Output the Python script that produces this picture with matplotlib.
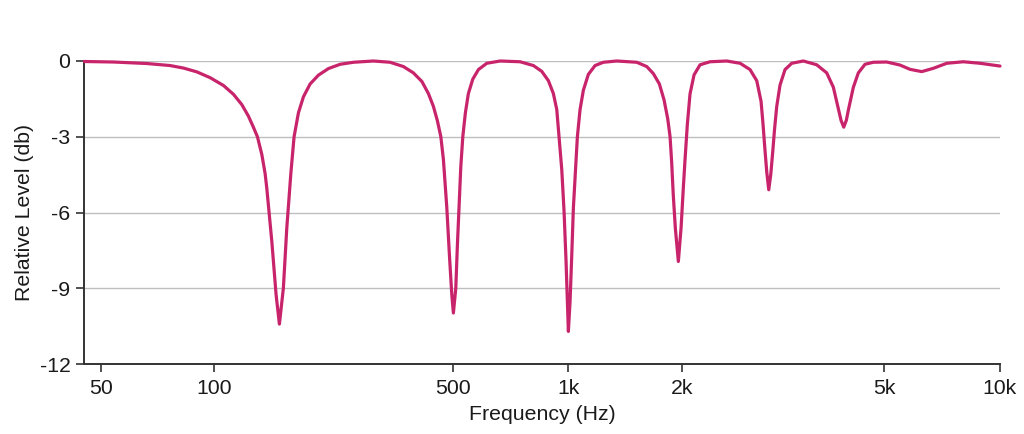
import numpy as np
import matplotlib
matplotlib.use("Agg")
import matplotlib.pyplot as plt
from matplotlib.ticker import NullLocator, FixedLocator, FixedFormatter

plt.rcParams['font.family'] = ['Liberation Sans', 'DejaVu Sans']

# ---- data ----
freq_hz = [45.2, 54.0, 66.2, 76.3, 82.8, 89.8, 97.4, 106.3, 113.7, 120.3,
           125.7, 130.0, 133.6, 137.6, 140.7, 142.3, 147.2, 151.5, 154.9, 159.1,
           162.8, 167.3, 171.0, 176.1, 182.1, 190.5, 201.5, 215.5, 233.2, 255.1,
           291.8, 326.5, 357.1, 381.9, 404.4, 422.6, 437.1, 449.0, 459.5, 467.5,
           478.3, 486.8, 494.7, 500.0, 507.3, 512.2, 518.4, 522.8, 529.2, 537.5,
           547.3, 562.0, 581.4, 611.6, 662.7, 747.5, 809.8, 851.8, 886.6, 913.6,
           932.4, 945.4, 955.2, 961.0, 974.4, 986.2, 993.9, 1000.0, 1010.4, 1021.0,
           1031.0, 1048.2, 1056.6, 1074.1, 1096.0, 1129.9, 1177.4, 1238.5, 1344.4, 1519.3,
           1614.9, 1681.4, 1744.4, 1794.9, 1836.3, 1862.1, 1880.3, 1899.0, 1923.1, 1958.8,
           1991.5, 2014.6, 2030.0, 2051.4, 2076.4, 2114.4, 2172.6, 2273.0, 2451.4, 2604.2,
           2723.8, 2807.8, 2863.2, 2888.6, 2911.0, 2937.8, 2964.4, 2991.4, 3018.2, 3043.2,
           3073.4, 3119.8, 3191.0, 3289.2, 3467.0, 3682.8, 3853.0, 3970.6, 4061.0, 4111.0,
           4161.4, 4210.6, 4248.6, 4346.6, 4445.8, 4581.8, 4758.0, 5072.5, 5492.5, 5832.5,
           6256.0, 6706.5, 7268.5, 8027.0, 8871.0, 10000.0]
level_db = [-0.02, -0.04, -0.10, -0.18, -0.28, -0.43, -0.66, -0.97, -1.32, -1.73,
            -2.18, -2.62, -3.00, -3.70, -4.46, -5.04, -7.15, -9.26, -10.42, -9.00,
            -6.62, -4.46, -3.00, -2.05, -1.42, -0.91, -0.56, -0.30, -0.13, -0.05,
            0.00, -0.05, -0.22, -0.47, -0.81, -1.29, -1.80, -2.37, -3.00, -3.90,
            -5.80, -7.68, -9.26, -9.98, -9.00, -7.30, -5.50, -4.20, -3.00, -2.05,
            -1.29, -0.72, -0.34, -0.09, 0.00, -0.03, -0.18, -0.41, -0.78, -1.29,
            -1.92, -3.00, -3.82, -4.30, -5.96, -7.94, -9.52, -10.71, -9.52, -7.68,
            -5.83, -3.90, -3.00, -1.92, -1.16, -0.53, -0.18, -0.05, 0.00, -0.05,
            -0.22, -0.50, -0.91, -1.54, -2.30, -3.00, -4.00, -5.30, -6.62, -7.94,
            -6.62, -5.00, -3.90, -2.50, -1.30, -0.55, -0.15, -0.03, 0.00, -0.09,
            -0.34, -0.78, -1.60, -2.50, -3.40, -4.40, -5.10, -4.50, -3.60, -2.70,
            -1.80, -0.95, -0.34, -0.09, 0.00, -0.15, -0.47, -1.04, -1.90, -2.35,
            -2.62, -2.35, -1.95, -1.04, -0.47, -0.13, -0.05, -0.04, -0.16, -0.33,
            -0.42, -0.29, -0.09, -0.03, -0.09, -0.20]

x_tick_values = [50, 100, 500, 1000, 2000, 5000, 10000]
x_tick_labels = ['50', '100', '500', '1k', '2k', '5k', '10k']
y_tick_values = [0, -3, -6, -9, -12]
y_tick_labels = ['0', '-3', '-6', '-9', '-12']

# ---- layout: the reference axis spaces its ticks unevenly ----
tick_layout_pos = np.array([100.7, 214.3, 453.3, 568.3, 681.7, 884.3, 1000.0])
log_anchor = np.log10(np.array(x_tick_values, dtype=float))


def forward(f):
    f = np.asarray(f, dtype=float)
    lf = np.log10(np.clip(f, 1e-6, None))
    u = np.interp(lf, log_anchor, tick_layout_pos)
    s0 = (tick_layout_pos[1] - tick_layout_pos[0]) / (log_anchor[1] - log_anchor[0])
    s1 = (tick_layout_pos[-1] - tick_layout_pos[-2]) / (log_anchor[-1] - log_anchor[-2])
    u = np.where(lf < log_anchor[0], tick_layout_pos[0] + (lf - log_anchor[0]) * s0, u)
    u = np.where(lf > log_anchor[-1], tick_layout_pos[-1] + (lf - log_anchor[-1]) * s1, u)
    return u


def inverse(u):
    u = np.asarray(u, dtype=float)
    lf = np.interp(u, tick_layout_pos, log_anchor)
    s0 = (log_anchor[1] - log_anchor[0]) / (tick_layout_pos[1] - tick_layout_pos[0])
    s1 = (log_anchor[-1] - log_anchor[-2]) / (tick_layout_pos[-1] - tick_layout_pos[-2])
    lf = np.where(u < tick_layout_pos[0], log_anchor[0] + (u - tick_layout_pos[0]) * s0, lf)
    lf = np.where(u > tick_layout_pos[-1], log_anchor[-1] + (u - tick_layout_pos[-1]) * s1, lf)
    return 10 ** lf


fig = plt.figure(figsize=(10.24, 4.34), dpi=100)
ax = fig.add_axes([84.3 / 1024, 70 / 434, (1000 - 84.3) / 1024, 303 / 434])

ax.set_xscale('function', functions=(forward, inverse))
ax.set_xlim(45.2, 10000)
ax.set_ylim(-12, 0)

line_color = '#C8246B'
ax.plot(freq_hz, level_db, color=line_color, lw=2.3, solid_joinstyle='round',
        solid_capstyle='round', clip_on=False, zorder=3)

for v in y_tick_values[:-1]:
    ax.axhline(v, color='#BEBEBE', lw=1.0, zorder=1)

ax.xaxis.set_major_locator(FixedLocator(x_tick_values))
ax.xaxis.set_major_formatter(FixedFormatter(x_tick_labels))
ax.xaxis.set_minor_locator(NullLocator())
ax.set_yticks(y_tick_values)
ax.set_yticklabels(y_tick_labels)

spine_color = '#333333'
for side in ['top', 'right']:
    ax.spines[side].set_visible(False)
for side in ['left', 'bottom']:
    ax.spines[side].set_color(spine_color)
    ax.spines[side].set_linewidth(1.4)

ax.tick_params(axis='both', which='major', length=6, width=1.2, color=spine_color,
               labelsize=15.3, labelcolor='#1a1a1a', direction='out')
ax.tick_params(axis='x', pad=5)
ax.tick_params(axis='y', pad=4)

ax.set_xlabel('Frequency (Hz)', fontsize=15.3, color='#1a1a1a', labelpad=5)
ax.set_ylabel('Relative Level (db)', fontsize=15.3, color='#1a1a1a', labelpad=4)

fig.savefig('out.png', dpi=100, facecolor='white')
